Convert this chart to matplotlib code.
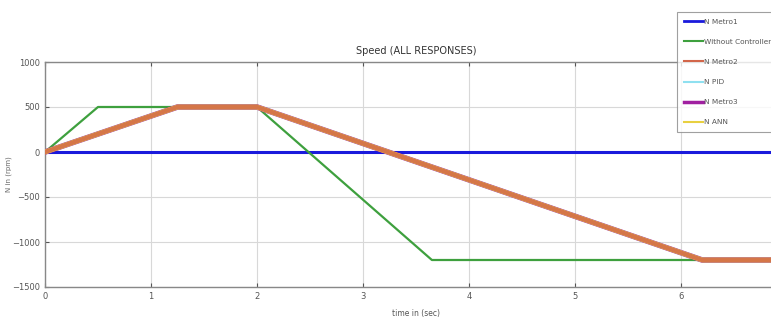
import matplotlib
matplotlib.use("Agg")
import matplotlib.pyplot as plt

# Data
t_metro1 = [0, 7]
n_metro1 = [0, 0]
t_noctrl = [0, 0.5, 2.0, 3.65, 6.2, 7]
n_noctrl = [0, 500, 500, -1200, -1200, -1200]
t_ctrl = [0, 1.25, 2.0, 6.2, 7]
n_ctrl = [0, 500, 500, -1200, -1200]
labels = ["N Metro1", "Without Controller", "N Metro2", "N PID", "N Metro3", "N ANN"]
xticks = [0, 1, 2, 3, 4, 5, 6]
yticks = [-1500, -1000, -500, 0, 500, 1000]

fig = plt.figure(figsize=(7.71, 3.26), dpi=100)
ax = fig.add_axes([45/771, 1-287/326, (787-45)/771, (287-62)/326])

l1, = ax.plot(t_metro1, n_metro1, color="#1a1adc", lw=2.2, label=labels[0], zorder=3)
l2, = ax.plot(t_noctrl, n_noctrl, color="#3ea03e", lw=1.6, label=labels[1], zorder=4)
l5, = ax.plot(t_ctrl, n_ctrl, color="#a020a0", lw=4, label=labels[4], zorder=5)
l4, = ax.plot(t_ctrl, n_ctrl, color="#8fe0f0", lw=3, label=labels[3], zorder=6)
l6, = ax.plot(t_ctrl, n_ctrl, color="#e8d040", lw=3.5, label=labels[5], zorder=7)
l3, = ax.plot(t_ctrl, n_ctrl, color="#d2664a", lw=3.2, alpha=0.85, label=labels[2], zorder=8)

ax.set_xlim(0, 7)
ax.set_ylim(-1500, 1000)
ax.set_xticks(xticks)
ax.set_yticks(yticks)
ax.grid(True, color="#d8d8d8", lw=0.8)
ax.tick_params(direction="in", top=True, right=True, labelsize=6, colors="#555555", length=3)
for s in ax.spines.values():
    s.set_color("#888888")
    s.set_linewidth(1.0)

ax.set_title("Speed (ALL RESPONSES)", fontsize=7, color="#333333", pad=6)
ax.set_xlabel("time in (sec)", fontsize=5.5, color="#555555", labelpad=6)
ax.set_ylabel("N in (rpm)", fontsize=5, color="#666666")
ax.yaxis.set_label_coords(-0.045, 0.5)

leg = fig.legend(handles=[l1, l2, l3, l4, l5, l6], labels=labels,
                 loc="upper left", bbox_to_anchor=(677/771, 1-12/326),
                 fontsize=5.3, frameon=True, fancybox=False, edgecolor="#888888",
                 handlelength=2.6, handletextpad=0.2, labelspacing=1.9,
                 borderpad=0.9, borderaxespad=0)
leg.get_frame().set_linewidth(0.8)
widths = [2.0, 1.5, 1.5, 1.5, 2.5, 1.5]
for h, w in zip(leg.legend_handles, widths):
    h.set_alpha(1)
    h.set_linewidth(w)
for t in leg.get_texts():
    t.set_color("#555555")

fig.savefig("out.png", dpi=100)
